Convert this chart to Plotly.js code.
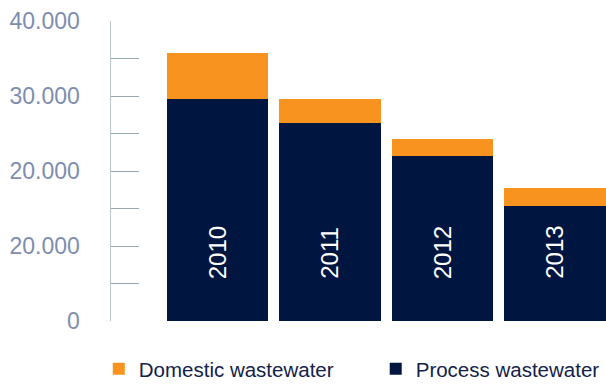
<!DOCTYPE html>
<html><head><meta charset="utf-8">
<script src="https://cdn.plot.ly/plotly-3.0.1.min.js"></script>
<style>html,body{margin:0;padding:0;background:#fff}#c{width:606px;height:389px}</style>
</head><body><div id="c"></div>
<script>
const years = ['2010', '2011', '2012', '2013'];
const processWW = [29600, 26400, 22000, 15330];
const domesticWW = [6100, 3200, 2270, 2400];
const tickVals = [0, 5000, 10000, 15000, 20000, 25000, 30000, 35000, 40000];
const tickText = ['0', '', '20.000', '', '20.000', '', '30.000', '', '40.000'];
const labelY = 9100;

const traces = [
  {type:'bar', name:'Process wastewater', x:years, y:processWW,
   marker:{color:'#001641'}, hoverinfo:'none', legend:'legend2'},
  {type:'bar', name:'Domestic wastewater', x:years, y:domesticWW,
   marker:{color:'#f7931e'}, hoverinfo:'none', legend:'legend'}
];

const legendBase = {orientation:'h', xref:'container', yref:'container',
  xanchor:'left', y:0, yanchor:'bottom',
  font:{size:20.5, color:'#13224a'}, itemwidth:30, bgcolor:'rgba(0,0,0,0)'};

const layout = {
  width:606, height:389, barmode:'stack', bargap:0.1,
  margin:{l:111, r:0, t:21, b:68},
  paper_bgcolor:'#fff', plot_bgcolor:'#fff',
  font:{family:'Liberation Sans, Arial, sans-serif'},
  xaxis:{type:'category', range:[-0.947, 3.453], showticklabels:false, ticks:'',
         showgrid:false, zeroline:false, showline:false},
  yaxis:{range:[0, 40000], tickvals:tickVals, ticktext:tickText,
         ticks:'inside', ticklen:28, tickcolor:'#9aa8b2', tickwidth:1,
         showline:true, linecolor:'#bcc6ca', linewidth:1.5,
         showgrid:false, zeroline:false,
         tickfont:{size:23, color:'#7d8db0'}, ticklabelstandoff:25},
  showlegend:true,
  legend:Object.assign({}, legendBase, {x:0.163}),
  legend2:Object.assign({}, legendBase, {x:0.620}),
  annotations: years.map((y, i) => ({x:i, y:labelY, xref:'x', yref:'y', text:y,
          textangle:-90, showarrow:false, font:{size:24, color:'#ffffff'}}))
};
Plotly.newPlot('c', traces, layout, {displayModeBar:false, staticPlot:true});
</script></body></html>
